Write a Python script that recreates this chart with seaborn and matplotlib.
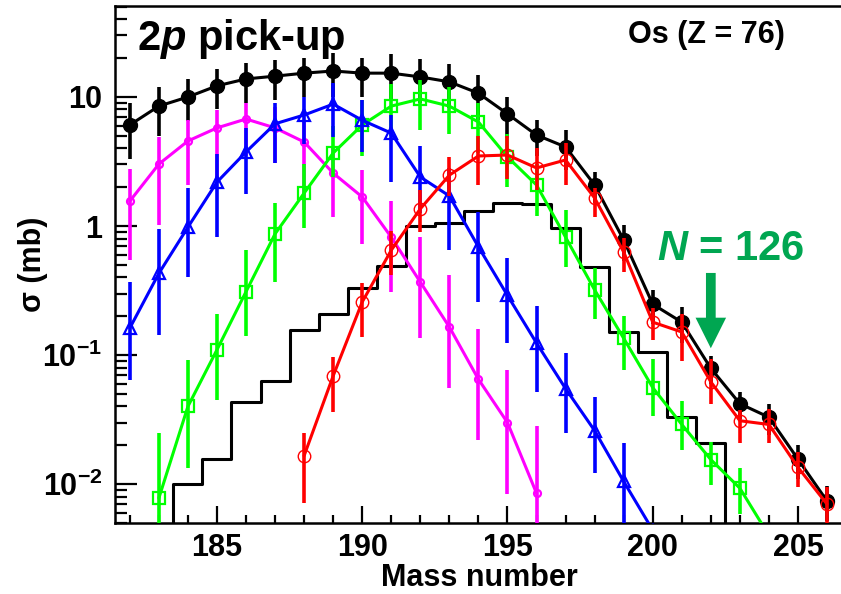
import numpy as np
import pandas as pd
import matplotlib
matplotlib.use("Agg")
import matplotlib.pyplot as plt
import seaborn as sns
from matplotlib.ticker import MultipleLocator, LogLocator, NullFormatter

# ---------------- data ----------------
# Total (black filled circles)
tot_mass = list(range(182, 207))
tot_val = [6.07, 8.5, 10.0, 12.2, 13.8, 14.5, 15.3, 15.9, 15.3, 15.3, 14.3, 13.1, 10.7,
           7.4, 5.07, 4.1, 2.08, 0.78, 0.248, 0.18, 0.079, 0.042, 0.033, 0.0156, 0.0074]
tot_hi = [8.98, 12.0, 13.8, 16.4, 18.3, 19.4, 20.0, 21.9, 20.0, 21.5, 19.6, 18.0, 14.8,
          10.0, 6.6, 5.55, 2.63, 1.02, 0.32, 0.235, 0.098, 0.052, 0.042, 0.020, 0.0097]
tot_lo = [3.3, 5.0, 6.5, 8.0, 9.0, 9.5, 10.0, 10.0, 10.0, 9.6, 9.0, 8.2, 6.6,
          4.8, 3.5, 2.7, 1.5, 0.54, 0.175, 0.125, 0.06, 0.032, 0.024, 0.011, 0.0052]

# magenta open circles
mag_mass = list(range(182, 197))
mag_val = [1.56, 3.02, 4.56, 5.76, 6.75, 5.76, 4.48, 2.57, 1.68, 0.82, 0.368, 0.165, 0.065, 0.030, 0.0085]
mag_hi = [2.76, 4.9, 6.64, 7.9, 9.0, 8.3, 6.4, 4.0, 2.7, 1.55, 0.82, 0.415, 0.16, 0.077, 0.028]
mag_lo = [0.545, 1.02, 2.08, 2.3, 3.5, 3.1, 1.33, 1.17, 0.72, 0.31, 0.135, 0.056, 0.022, 0.0084, 0.001]

# blue open triangles
blu_mass = list(range(182, 201))
blu_val = [0.162, 0.43, 0.98, 2.19, 3.75, 6.2, 7.25, 8.8, 6.6, 5.25, 2.4, 1.71, 0.69, 0.29,
           0.124, 0.055, 0.026, 0.0105, 0.0044]
blu_hi = [0.37, 0.95, 1.96, 3.6, 5.8, 9.0, 10.0, 12.8, 9.5, 7.3, 4.2, 2.8, 1.29, 0.57,
          0.24, 0.104, 0.047, 0.021, 0.0048]
blu_lo = [0.064, 0.143, 0.40, 0.82, 1.76, 3.08, 4.3, 4.9, 3.75, 2.2, 1.26, 0.65, 0.26, 0.124,
          0.052, 0.025, 0.0122, 0.004, 0.003]

# green open squares
grn_mass = list(range(183, 205))
grn_val = [0.0078, 0.040, 0.11, 0.31, 0.87, 1.8, 3.68, 6.07, 8.5, 9.66, 8.5, 6.4, 3.43, 2.08,
           0.82, 0.32, 0.135, 0.056, 0.029, 0.0155, 0.0093, 0.004]
grn_hi = [0.0248, 0.092, 0.21, 0.65, 1.5, 3.0, 6.0, 9.5, 12.5, 13.5, 12.0, 9.0, 5.2, 3.0,
          1.33, 0.47, 0.20, 0.093, 0.044, 0.0212, 0.0133, 0.0048]
grn_lo = [0.001, 0.0133, 0.045, 0.14, 0.37, 0.97, 2.4, 3.5, 5.0, 5.5, 5.2, 3.7, 2.0, 1.2,
          0.48, 0.19, 0.077, 0.034, 0.0184, 0.0098, 0.0059, 0.003]

# red open circles
red_mass = list(range(188, 207))
red_val = [0.0166, 0.069, 0.258, 0.65, 1.36, 2.48, 3.49, 3.55, 2.82, 3.25, 1.65, 0.63, 0.18,
           0.151, 0.062, 0.031, 0.029, 0.0135, 0.007]
red_hi = [0.0248, 0.0968, 0.36, 0.92, 1.9, 3.4, 5.0, 5.0, 4.0, 4.4, 1.97, 0.81, 0.23,
          0.21, 0.093, 0.0375, 0.038, 0.0178, 0.0095]
red_lo = [0.0072, 0.036, 0.138, 0.42, 0.9, 1.7, 2.08, 2.3, 1.9, 2.08, 1.17, 0.44, 0.131,
          0.09, 0.042, 0.021, 0.021, 0.0095, 0.001]

# black step histogram (values per mass bin; 0.001 = below the axis)
hist_mass = list(range(183, 204))
hist_val = [0.001, 0.01, 0.0158, 0.043, 0.063, 0.156, 0.21, 0.33, 0.49, 1.0, 1.05, 1.31,
            1.51, 1.49, 0.96, 0.48, 0.15, 0.105, 0.033, 0.021, 0.001]

x_ticks = [185, 190, 195, 200, 205]
y_ticks = [0.01, 0.1, 1, 10]
y_ticklabels = [r"$\mathbf{10^{-2}}$", r"$\mathbf{10^{-1}}$", "1", "10"]

arrow_x, arrow_top, arrow_tip = 202, 0.433, 0.113

GREEN_TXT = "#00a651"

# ---------------- style ----------------
sns.set_theme(style="ticks")
plt.rcParams["font.family"] = ["Liberation Sans", "DejaVu Sans"]
plt.rcParams["font.weight"] = "bold"
plt.rcParams["mathtext.fontset"] = "custom"
plt.rcParams["mathtext.rm"] = "Liberation Sans:bold"
plt.rcParams["mathtext.bf"] = "Liberation Sans:bold"
plt.rcParams["mathtext.it"] = "Liberation Sans:bold:italic"
for key in ["text.color", "axes.labelcolor", "xtick.color", "ytick.color",
            "axes.edgecolor", "xtick.labelcolor", "ytick.labelcolor"]:
    plt.rcParams[key] = "black"

fig = plt.figure(figsize=(8.41, 5.94), dpi=100)
W, H = 841, 594
ax = fig.add_axes([115 / W, 1 - 523 / H, (843 - 115) / W, (523 - 6) / H])
ax.set_facecolor("white")
ax.set_yscale("log")

LW = 2.2
ELW = 2.6


def draw(mass, val, lo, hi, color, marker, ms, mfc, mew, z):
    val = np.asarray(val)
    yerr = np.vstack([val - np.asarray(lo), np.asarray(hi) - val])
    ax.errorbar(mass, val, yerr=yerr, fmt="none", ecolor=color, elinewidth=ELW,
                capsize=0, zorder=z)
    sns.lineplot(x=mass, y=val, ax=ax, color=color, lw=LW, marker=marker,
                 markersize=ms, markerfacecolor=mfc, markeredgecolor=color,
                 markeredgewidth=mew, estimator=None, sort=False, zorder=z + 0.1,
                 legend=False)


# histogram (step)
sns.lineplot(x=hist_mass, y=hist_val, ax=ax, color="black", lw=LW,
             drawstyle="steps-mid", estimator=None, sort=False, zorder=1.5, legend=False)

draw(tot_mass, tot_val, tot_lo, tot_hi, "black", "o", 10, "black", 1.0, 2)
draw(mag_mass, mag_val, mag_lo, mag_hi, "#ff00ff", "o", 5, "none", 1.6, 3)
draw(grn_mass, grn_val, grn_lo, grn_hi, "#00ff00", "s", 8.5, "none", 1.6, 4)
draw(blu_mass, blu_val, blu_lo, blu_hi, "#0000ff", "^", 8, "none", 1.6, 5)
draw(red_mass, red_val, red_lo, red_hi, "#ff0000", "o", 9, "none", 1.0, 6)

ax.set_xlim(181.49, 206.55)
ax.set_ylim(0.005, 50.7)

# ticks
ax.xaxis.set_minor_locator(MultipleLocator(1))
ax.set_xticks(x_ticks)
ax.set_xticklabels([str(t) for t in x_ticks])
ax.yaxis.set_minor_locator(LogLocator(base=10, subs=np.arange(2, 10)))
ax.set_yticks(y_ticks)
ax.set_yticklabels(y_ticklabels)
ax.yaxis.set_minor_formatter(NullFormatter())

ax.tick_params(axis="x", which="major", direction="in", length=12, width=1.6,
               labelsize=22, pad=7, top=False, colors="black")
ax.tick_params(axis="x", which="minor", direction="in", length=6, width=1.6, top=False,
               colors="black")
ax.tick_params(axis="y", which="major", direction="in", length=16, width=1.6,
               labelsize=22, pad=9, right=False, colors="black")
ax.tick_params(axis="y", which="minor", direction="in", length=8.5, width=1.6, right=False,
               colors="black")
for lab in ax.get_xticklabels() + ax.get_yticklabels():
    lab.set_fontweight("bold")
    lab.set_color("black")

for s in ["left", "bottom", "top"]:
    ax.spines[s].set_linewidth(1.8)
    ax.spines[s].set_color("black")
ax.spines["right"].set_visible(False)

ax.set_xlabel("Mass number", fontsize=22, fontweight="bold", color="black")
ax.xaxis.set_label_coords(0.5, -0.078)
ax.set_ylabel("σ (mb)", fontsize=22, fontweight="bold", color="black")
ax.yaxis.set_label_coords(-0.092, 0.5)

# texts
fig.text(137 / W, 1 - 50 / H, r"$2\mathit{p}$ pick-up", fontsize=30, fontweight="bold",
         color="black", ha="left", va="baseline")
fig.text(628 / W, 1 - 43 / H, "Os (Z = 76)", fontsize=22, fontweight="bold",
         color="black", ha="left", va="baseline")
fig.text(657 / W, 1 - 260 / H, r"$\mathit{N}$ = 126", fontsize=30, fontweight="bold",
         color=GREEN_TXT, ha="left", va="baseline")

ax.annotate("", xy=(arrow_x, arrow_tip), xytext=(arrow_x, arrow_top),
            arrowprops=dict(facecolor=GREEN_TXT, edgecolor="none", width=7,
                            headwidth=22, headlength=22, shrink=0), zorder=7)

fig.savefig("out.png", dpi=100)
